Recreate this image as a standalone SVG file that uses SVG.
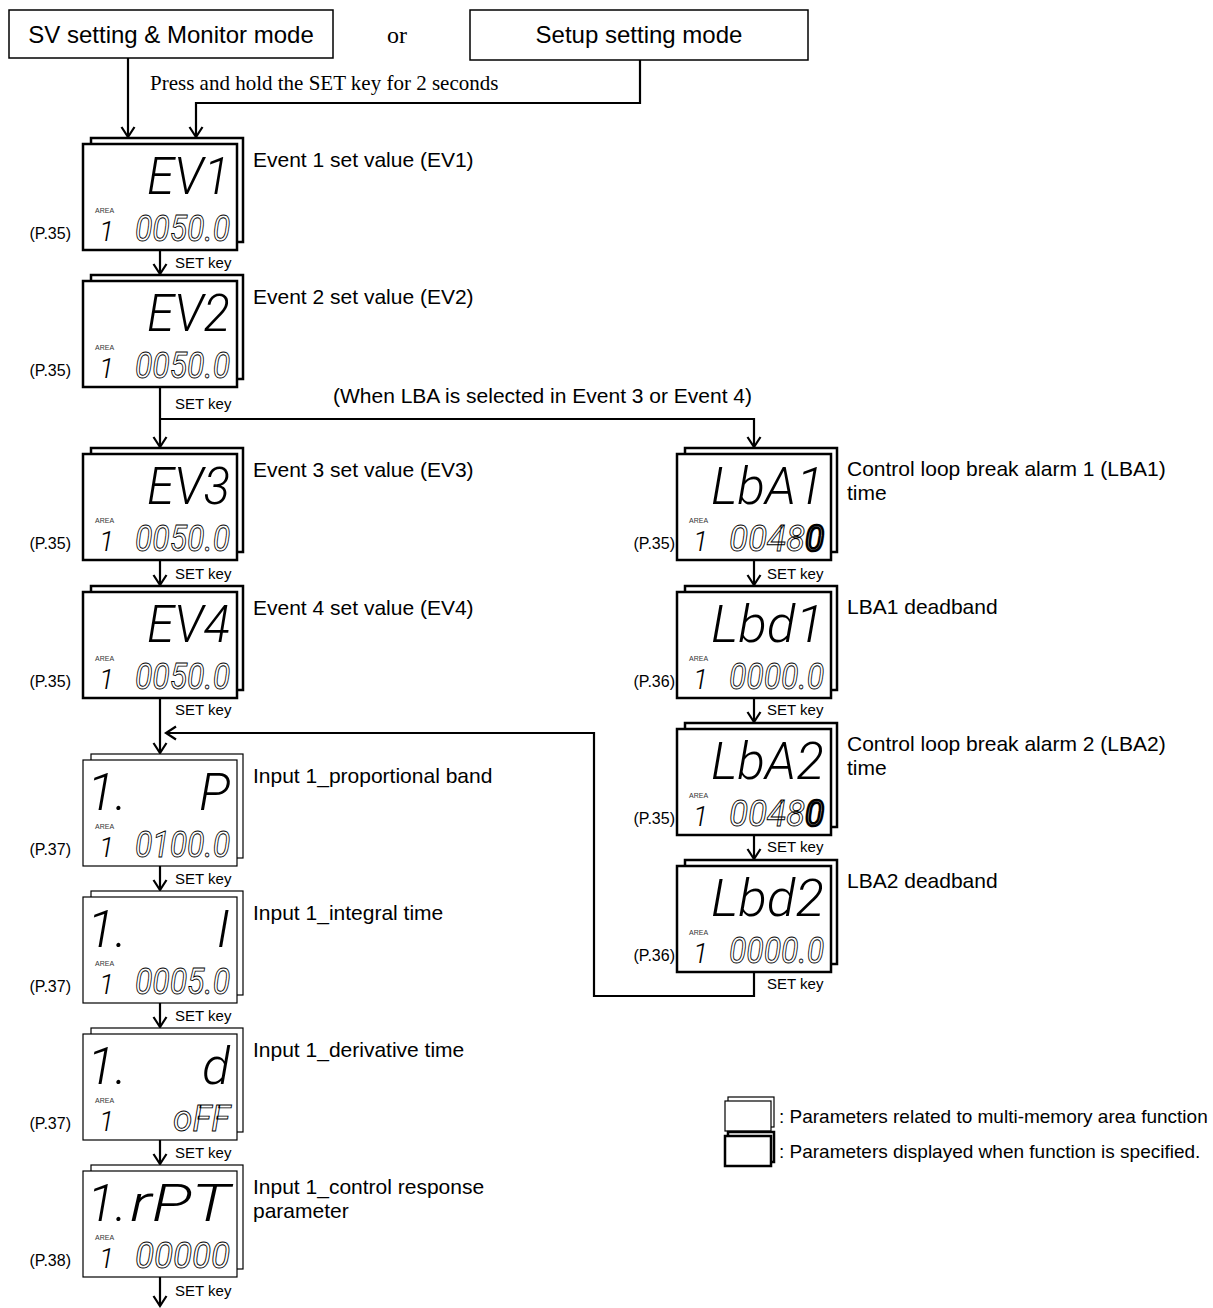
<svg xmlns="http://www.w3.org/2000/svg" width="1213" height="1308" viewBox="0 0 1213 1308">
<defs>
<style>
.bg{fill:#fff}
.mb{fill:#fff;stroke:#000;stroke-width:1.5}
.tk rect{fill:#fff;stroke:#000;stroke-width:2.5}
.tn rect{fill:#fff;stroke:#000;stroke-width:1.2}
.conn{fill:none;stroke:#000;stroke-width:2.2}
.sans{font-family:"Liberation Sans",Arial,sans-serif;fill:#000}
.serif{font-family:"Liberation Serif","Times New Roman",serif;fill:#000}
.lbl{font-family:"Liberation Sans",Arial,sans-serif;font-size:21px;fill:#000}
.sk{font-family:"Liberation Sans",Arial,sans-serif;font-size:15px;fill:#000}
.pg{font-family:"Liberation Sans",Arial,sans-serif;font-size:16px;fill:#000;text-anchor:end}
.code{font-family:Roboto,Inter,"DejaVu Sans",sans-serif;font-weight:300;font-style:italic;font-size:52px;fill:#000;text-anchor:end}
.one{font-family:Roboto,Inter,"DejaVu Sans",sans-serif;font-weight:300;font-style:italic;font-size:52px;fill:#000}
.area{font-family:"Liberation Sans",Arial,sans-serif;font-size:7px;fill:#333}
.an{font-family:Roboto,Inter,"DejaVu Sans",sans-serif;font-weight:300;font-style:italic;font-size:28px;fill:#000}
.val{font-family:Roboto,Inter,"DejaVu Sans",sans-serif;font-weight:400;font-style:italic;font-size:36px;fill:#fff;stroke:#000;stroke-width:0.9;text-anchor:end}
.cur{stroke-width:2.6}
.leg{font-family:"Liberation Sans",Arial,sans-serif;font-size:19px;fill:#000}
</style>
<marker id="ah" markerUnits="userSpaceOnUse" markerWidth="16" markerHeight="16" viewBox="0 0 16 16" refX="13" refY="8" orient="auto">
<path d="M3,1.5 L13,8 L3,14.5" fill="none" stroke="#000" stroke-width="2.2"/>
</marker>
</defs>
<rect class="bg" x="0" y="0" width="1213" height="1308"/>

<g id="mode-sv">
<rect class="mb" x="9" y="10" width="324" height="48"/>
<text class="sans" x="171" y="43" font-size="24" text-anchor="middle">SV setting &amp; Monitor mode</text>
</g>
<text class="serif" x="397" y="43" font-size="24" text-anchor="middle">or</text>
<g id="mode-setup">
<rect class="mb" x="470" y="10" width="338" height="50"/>
<text class="sans" x="639" y="43" font-size="24" text-anchor="middle">Setup setting mode</text>
</g>

<g id="connectors">
<path class="conn" d="M128,58 V137" marker-end="url(#ah)"/>
<path class="conn" d="M640,60 V103 H196 V137" marker-end="url(#ah)"/>
<path class="conn" d="M160,250 V274" marker-end="url(#ah)"/>
<path class="conn" d="M160,387 V447" marker-end="url(#ah)"/>
<path class="conn" d="M160,419 H754 V447" marker-end="url(#ah)"/>
<path class="conn" d="M160,560 V585" marker-end="url(#ah)"/>
<path class="conn" d="M160,698 V753" marker-end="url(#ah)"/>
<path class="conn" d="M160,866 V890" marker-end="url(#ah)"/>
<path class="conn" d="M160,1003 V1027" marker-end="url(#ah)"/>
<path class="conn" d="M160,1140 V1164" marker-end="url(#ah)"/>
<path class="conn" d="M160,1277 V1306" marker-end="url(#ah)"/>
<path class="conn" d="M754,560 V585" marker-end="url(#ah)"/>
<path class="conn" d="M754,698 V722" marker-end="url(#ah)"/>
<path class="conn" d="M754,835 V859" marker-end="url(#ah)"/>
<path class="conn" d="M754,972 V996 H594 V733 H166" marker-end="url(#ah)"/>
</g>

<g id="conn-labels">
<text class="serif" x="150" y="90" font-size="21">Press and hold the SET key for 2 seconds</text>
<text class="sk" x="175" y="268">SET key</text>
<text class="sk" x="175" y="409">SET key</text>
<text class="lbl" x="333" y="403">(When LBA is selected in Event 3 or Event 4)</text>
<text class="sk" x="175" y="579">SET key</text>
<text class="sk" x="175" y="715">SET key</text>
<text class="sk" x="175" y="884">SET key</text>
<text class="sk" x="175" y="1021">SET key</text>
<text class="sk" x="175" y="1158">SET key</text>
<text class="sk" x="175" y="1296">SET key</text>
<text class="sk" x="767" y="579">SET key</text>
<text class="sk" x="767" y="715">SET key</text>
<text class="sk" x="767" y="852">SET key</text>
<text class="sk" x="767" y="989">SET key</text>
</g>

<g id="ev1" class="tk">
<rect x="91" y="138" width="152" height="104"/>
<rect x="83" y="144" width="154" height="106"/>
<text class="code" x="230" y="194" textLength="83" lengthAdjust="spacingAndGlyphs">EV1</text>
<text class="area" x="95" y="213">AREA</text>
<text class="an" x="99" y="241">1</text>
<text class="val" x="230" y="241" textLength="95" lengthAdjust="spacingAndGlyphs">0050.0</text>
<text class="lbl" x="253" y="167">Event 1 set value (EV1)</text>
<text class="pg" x="71" y="239">(P.35)</text>
</g>

<g id="ev2" class="tk">
<rect x="91" y="275" width="152" height="104"/>
<rect x="83" y="281" width="154" height="106"/>
<text class="code" x="230" y="331" textLength="83" lengthAdjust="spacingAndGlyphs">EV2</text>
<text class="area" x="95" y="350">AREA</text>
<text class="an" x="99" y="378">1</text>
<text class="val" x="230" y="378" textLength="95" lengthAdjust="spacingAndGlyphs">0050.0</text>
<text class="lbl" x="253" y="304">Event 2 set value (EV2)</text>
<text class="pg" x="71" y="376">(P.35)</text>
</g>

<g id="ev3" class="tk">
<rect x="91" y="448" width="152" height="104"/>
<rect x="83" y="454" width="154" height="106"/>
<text class="code" x="230" y="504" textLength="83" lengthAdjust="spacingAndGlyphs">EV3</text>
<text class="area" x="95" y="523">AREA</text>
<text class="an" x="99" y="551">1</text>
<text class="val" x="230" y="551" textLength="95" lengthAdjust="spacingAndGlyphs">0050.0</text>
<text class="lbl" x="253" y="477">Event 3 set value (EV3)</text>
<text class="pg" x="71" y="549">(P.35)</text>
</g>

<g id="ev4" class="tk">
<rect x="91" y="586" width="152" height="104"/>
<rect x="83" y="592" width="154" height="106"/>
<text class="code" x="230" y="642" textLength="83" lengthAdjust="spacingAndGlyphs">EV4</text>
<text class="area" x="95" y="661">AREA</text>
<text class="an" x="99" y="689">1</text>
<text class="val" x="230" y="689" textLength="95" lengthAdjust="spacingAndGlyphs">0050.0</text>
<text class="lbl" x="253" y="615">Event 4 set value (EV4)</text>
<text class="pg" x="71" y="687">(P.35)</text>
</g>

<g id="p1" class="tn">
<rect x="91" y="754" width="152" height="104"/>
<rect x="83" y="760" width="154" height="106"/>
<text class="one" x="87" y="810">1.</text>
<text class="code" x="230" y="810">P</text>
<text class="area" x="95" y="829">AREA</text>
<text class="an" x="99" y="857">1</text>
<text class="val" x="230" y="857" textLength="95" lengthAdjust="spacingAndGlyphs">0100.0</text>
<text class="lbl" x="253" y="783">Input 1_proportional band</text>
<text class="pg" x="71" y="855">(P.37)</text>
</g>

<g id="i1" class="tn">
<rect x="91" y="891" width="152" height="104"/>
<rect x="83" y="897" width="154" height="106"/>
<text class="one" x="87" y="947">1.</text>
<text class="code" x="230" y="947">I</text>
<text class="area" x="95" y="966">AREA</text>
<text class="an" x="99" y="994">1</text>
<text class="val" x="230" y="994" textLength="95" lengthAdjust="spacingAndGlyphs">0005.0</text>
<text class="lbl" x="253" y="920">Input 1_integral time</text>
<text class="pg" x="71" y="992">(P.37)</text>
</g>

<g id="d1" class="tn">
<rect x="91" y="1028" width="152" height="104"/>
<rect x="83" y="1034" width="154" height="106"/>
<text class="one" x="87" y="1084">1.</text>
<text class="code" x="230" y="1084">d</text>
<text class="area" x="95" y="1103">AREA</text>
<text class="an" x="99" y="1131">1</text>
<text class="val" x="230" y="1131" textLength="57" lengthAdjust="spacingAndGlyphs">oFF</text>
<text class="lbl" x="253" y="1057">Input 1_derivative time</text>
<text class="pg" x="71" y="1129">(P.37)</text>
</g>

<g id="rpt1" class="tn">
<rect x="91" y="1165" width="152" height="104"/>
<rect x="83" y="1171" width="154" height="106"/>
<text class="one" x="87" y="1221">1.</text>
<text class="code" x="230" y="1221" textLength="100" lengthAdjust="spacingAndGlyphs">rPT</text>
<text class="area" x="95" y="1240">AREA</text>
<text class="an" x="99" y="1268">1</text>
<text class="val" x="230" y="1268" textLength="95" lengthAdjust="spacingAndGlyphs">00000</text>
<text class="lbl" x="253" y="1194">Input 1_control response</text>
<text class="lbl" x="253" y="1218">parameter</text>
<text class="pg" x="71" y="1266">(P.38)</text>
</g>

<g id="lba1" class="tk">
<rect x="685" y="448" width="152" height="104"/>
<rect x="677" y="454" width="154" height="106"/>
<text class="code" x="824" y="504" textLength="113" lengthAdjust="spacingAndGlyphs">LbA1</text>
<text class="area" x="689" y="523">AREA</text>
<text class="an" x="693" y="551">1</text>
<text class="val" x="824" y="551" textLength="95" lengthAdjust="spacingAndGlyphs">0048<tspan class="cur">0</tspan></text>
<text class="lbl" x="847" y="476">Control loop break alarm 1 (LBA1)</text>
<text class="lbl" x="847" y="500">time</text>
<text class="pg" x="675" y="549">(P.35)</text>
</g>

<g id="lbd1" class="tk">
<rect x="685" y="586" width="152" height="104"/>
<rect x="677" y="592" width="154" height="106"/>
<text class="code" x="824" y="642" textLength="113" lengthAdjust="spacingAndGlyphs">Lbd1</text>
<text class="area" x="689" y="661">AREA</text>
<text class="an" x="693" y="689">1</text>
<text class="val" x="824" y="689" textLength="95" lengthAdjust="spacingAndGlyphs">0000.0</text>
<text class="lbl" x="847" y="614">LBA1 deadband</text>
<text class="pg" x="675" y="687">(P.36)</text>
</g>

<g id="lba2" class="tk">
<rect x="685" y="723" width="152" height="104"/>
<rect x="677" y="729" width="154" height="106"/>
<text class="code" x="824" y="779" textLength="113" lengthAdjust="spacingAndGlyphs">LbA2</text>
<text class="area" x="689" y="798">AREA</text>
<text class="an" x="693" y="826">1</text>
<text class="val" x="824" y="826" textLength="95" lengthAdjust="spacingAndGlyphs">0048<tspan class="cur">0</tspan></text>
<text class="lbl" x="847" y="751">Control loop break alarm 2 (LBA2)</text>
<text class="lbl" x="847" y="775">time</text>
<text class="pg" x="675" y="824">(P.35)</text>
</g>

<g id="lbd2" class="tk">
<rect x="685" y="860" width="152" height="104"/>
<rect x="677" y="866" width="154" height="106"/>
<text class="code" x="824" y="916" textLength="113" lengthAdjust="spacingAndGlyphs">Lbd2</text>
<text class="area" x="689" y="935">AREA</text>
<text class="an" x="693" y="963">1</text>
<text class="val" x="824" y="963" textLength="95" lengthAdjust="spacingAndGlyphs">0000.0</text>
<text class="lbl" x="847" y="888">LBA2 deadband</text>
<text class="pg" x="675" y="961">(P.36)</text>
</g>

<g id="legend-multi" class="tn">
<rect x="728" y="1097" width="46" height="30"/>
<rect x="725" y="1101" width="46" height="30"/>
<text class="leg" x="779" y="1123">: Parameters related to multi-memory area function</text>
</g>
<g id="legend-func" class="tk">
<rect x="728" y="1132" width="46" height="30"/>
<rect x="725" y="1136" width="46" height="30"/>
<text class="leg" x="779" y="1158">: Parameters displayed when function is specified.</text>
</g>
</svg>
